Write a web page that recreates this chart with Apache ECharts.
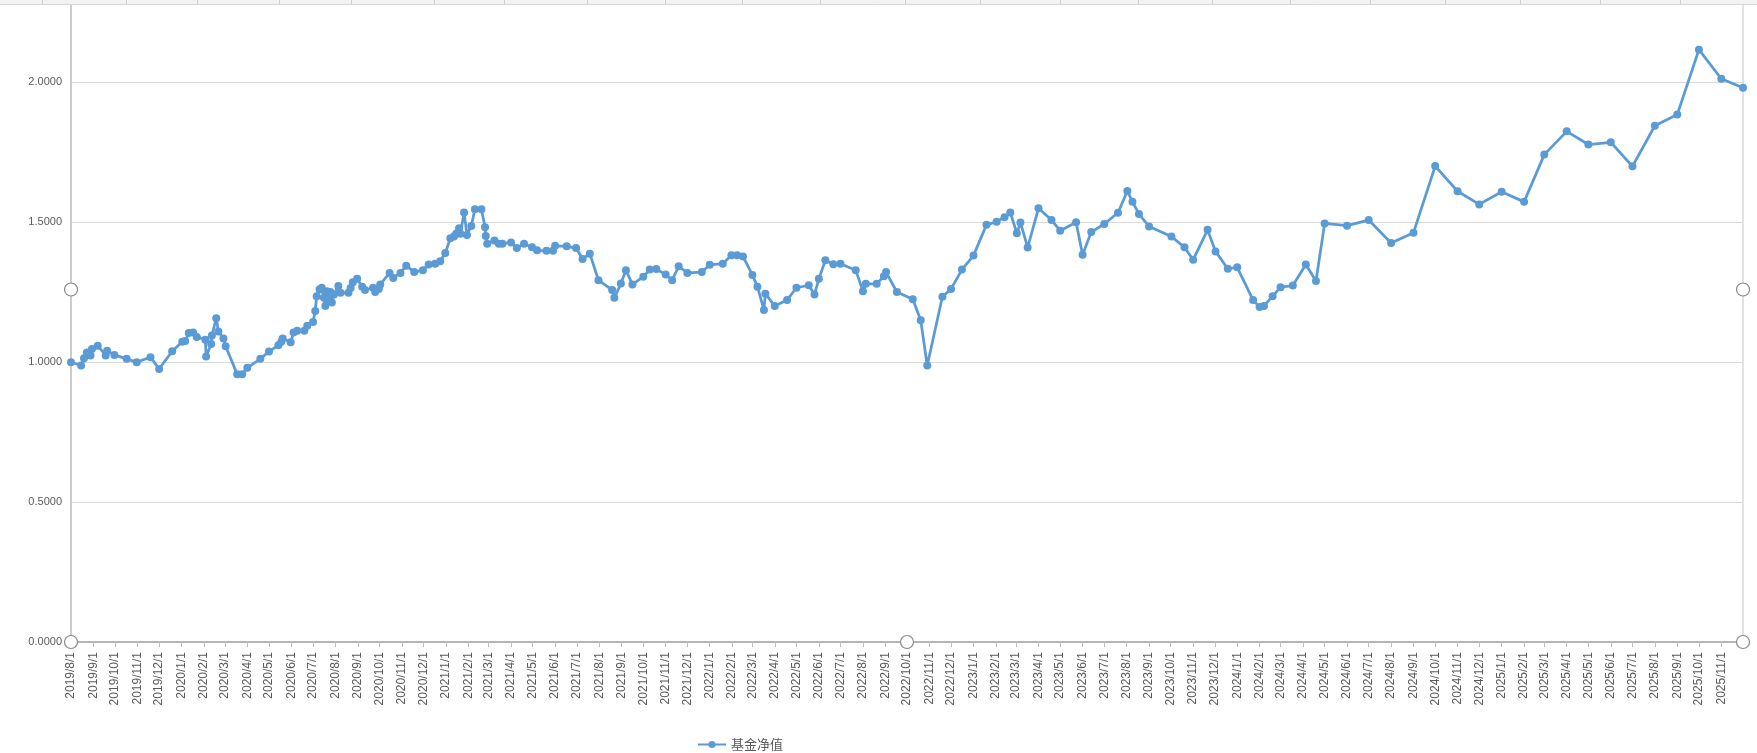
<!DOCTYPE html>
<html>
<head>
<meta charset="utf-8">
<script src="https://cdn.jsdelivr.net/npm/echarts@6/dist/echarts.min.js"></script>
<style>
  html, body { margin: 0; padding: 0; background: #ffffff; overflow: hidden; width: 1757px; height: 753px; position: relative; }
  #chart { position: absolute; left: 0; top: -63px; width: 1757px; height: 816px; }
</style>
</head>
<body>
<div id="chart"></div>
<script>
// ---- data ----
const seriesName = '基金净值';
const dates = [
  '2019-08-01','2019-08-15','2019-08-19','2019-08-23','2019-08-28','2019-08-30','2019-09-07','2019-09-18','2019-09-20','2019-09-30',
  '2019-10-17','2019-10-31','2019-11-19','2019-12-01','2019-12-19','2020-01-02','2020-01-06','2020-01-11','2020-01-17','2020-01-22',
  '2020-02-03','2020-02-04','2020-02-11','2020-02-12','2020-02-18','2020-02-21','2020-02-28','2020-03-02','2020-03-18','2020-03-25',
  '2020-04-01','2020-04-19','2020-05-01','2020-05-14','2020-05-18','2020-05-20','2020-05-31','2020-06-04','2020-06-09','2020-06-19',
  '2020-06-23','2020-07-01','2020-07-04','2020-07-06','2020-07-10','2020-07-13','2020-07-16','2020-07-18','2020-07-20','2020-07-23',
  '2020-07-25','2020-07-27','2020-07-30','2020-08-05','2020-08-08','2020-08-19','2020-08-22','2020-08-25','2020-08-31','2020-09-07',
  '2020-09-11','2020-09-22','2020-09-25','2020-09-30','2020-10-02','2020-10-15','2020-10-20','2020-10-30','2020-11-07','2020-11-18',
  '2020-11-30','2020-12-08','2020-12-17','2020-12-24','2020-12-31','2021-01-07','2021-01-12','2021-01-15','2021-01-19','2021-01-21',
  '2021-01-26','2021-01-30','2021-02-05','2021-02-10','2021-02-19','2021-02-24','2021-02-25','2021-02-27','2021-03-09','2021-03-15',
  '2021-03-20','2021-04-01','2021-04-09','2021-04-19','2021-04-30','2021-05-07','2021-05-20','2021-05-29','2021-06-01','2021-06-17',
  '2021-06-30','2021-07-09','2021-07-19','2021-07-31','2021-08-19','2021-08-22','2021-08-31','2021-09-07','2021-09-16','2021-10-01',
  '2021-10-10','2021-10-19','2021-11-01','2021-11-10','2021-11-19','2021-12-01','2021-12-21','2022-01-01','2022-01-19','2022-01-31',
  '2022-02-08','2022-02-16','2022-03-01','2022-03-08','2022-03-17','2022-03-19','2022-04-01','2022-04-18','2022-05-01','2022-05-18',
  '2022-05-26','2022-06-01','2022-06-10','2022-06-21','2022-07-01','2022-07-22','2022-08-01','2022-08-05','2022-08-20','2022-08-30',
  '2022-09-02','2022-09-17','2022-10-09','2022-10-20','2022-10-29','2022-11-19','2022-12-01','2022-12-16','2023-01-01','2023-01-19',
  '2023-02-02','2023-02-13','2023-02-21','2023-03-02','2023-03-07','2023-03-17','2023-04-01','2023-04-19','2023-05-01','2023-05-23',
  '2023-06-01','2023-06-13','2023-07-01','2023-07-20','2023-08-02','2023-08-09','2023-08-18','2023-09-01','2023-10-02','2023-10-20',
  '2023-11-01','2023-11-21','2023-12-02','2023-12-19','2024-01-01','2024-01-23','2024-02-01','2024-02-07','2024-02-19','2024-03-01',
  '2024-03-18','2024-04-05','2024-04-19','2024-05-01','2024-06-01','2024-07-01','2024-08-01','2024-09-01','2024-10-01','2024-11-01',
  '2024-12-01','2025-01-01','2025-02-01','2025-03-01','2025-04-01','2025-05-01','2025-06-01','2025-07-01','2025-08-01','2025-09-01',
  '2025-10-01','2025-11-01','2025-12-01'
];
const navValues = [
  1.000,0.988,1.014,1.035,1.024,1.047,1.059,1.024,1.041,1.026,
  1.012,1.000,1.018,0.976,1.039,1.073,1.076,1.104,1.106,1.090,
  1.080,1.020,1.065,1.095,1.157,1.110,1.085,1.057,0.957,0.957,
  0.980,1.012,1.038,1.061,1.073,1.085,1.071,1.106,1.112,1.112,
  1.130,1.144,1.183,1.236,1.260,1.266,1.230,1.201,1.254,1.225,
  1.251,1.213,1.242,1.272,1.248,1.248,1.265,1.286,1.298,1.270,
  1.258,1.266,1.251,1.262,1.278,1.319,1.301,1.319,1.345,1.322,
  1.329,1.349,1.352,1.361,1.390,1.443,1.449,1.459,1.479,1.459,
  1.535,1.455,1.487,1.547,1.547,1.482,1.451,1.423,1.435,1.423,
  1.423,1.428,1.408,1.423,1.411,1.400,1.398,1.398,1.416,1.414,
  1.408,1.369,1.388,1.293,1.258,1.230,1.281,1.329,1.278,1.305,
  1.331,1.333,1.313,1.293,1.343,1.319,1.322,1.348,1.352,1.382,
  1.382,1.378,1.312,1.270,1.187,1.245,1.201,1.222,1.266,1.275,
  1.242,1.298,1.364,1.350,1.352,1.329,1.254,1.280,1.280,1.307,
  1.322,1.251,1.225,1.150,0.988,1.234,1.262,1.331,1.381,1.491,
  1.502,1.518,1.535,1.461,1.499,1.410,1.550,1.508,1.470,1.500,
  1.384,1.465,1.494,1.534,1.612,1.573,1.530,1.485,1.449,1.411,
  1.366,1.473,1.396,1.334,1.339,1.222,1.197,1.201,1.236,1.268,
  1.274,1.349,1.290,1.496,1.488,1.508,1.426,1.463,1.701,1.611,
  1.564,1.609,1.573,1.742,1.825,1.778,1.786,1.700,1.845,1.885,
  2.117,2.013,1.981
];
// x axis: first month label / last month label, axis range
const tickStartMonth = [2019, 8];
const tickEndMonth = [2025, 11];
const axisMinDate = '2019-08-01';
const axisMaxDate = '2025-12-01';
// y axis
const yMin = 0, yMax = 2.5, yStep = 0.5;

// ---- helpers ----
function toTs(s) { const p = s.split('-').map(Number); return Date.UTC(p[0], p[1] - 1, p[2]); }
function fmtDate(ts) { const d = new Date(ts); return d.getUTCFullYear() + '/' + (d.getUTCMonth() + 1) + '/' + d.getUTCDate(); }
const tickValues = [];
for (let y = tickStartMonth[0], m = tickStartMonth[1]; y < tickEndMonth[0] || (y === tickEndMonth[0] && m <= tickEndMonth[1]); ) {
  tickValues.push(Date.UTC(y, m - 1, 1));
  m++; if (m > 12) { m = 1; y++; }
}
const seriesData = dates.map((d, i) => [toTs(d), navValues[i]]);

// ---- layout (chart canvas is taller than the page and shifted up: the plot top is cut off) ----
const W = 1757, H = 816, OFF = 63;
const GL = 71, GR = 14, GT = 0, GB = 111;
const px0 = GL, px1 = W - GR, pyB = H - GB, pyT = GT;
const handleR = 6.5;
function handle(x, y) {
  return { type: 'circle', shape: { cx: x, cy: y, r: handleR }, style: { fill: '#ffffff', stroke: '#8a8a8a', lineWidth: 1.2 }, z: 100 };
}
const colSeps = [42, 126, 197, 279, 351, 434, 504, 587, 665, 742, 820, 905, 980, 1060, 1138, 1212, 1290, 1370, 1445, 1520, 1600, 1680];
const topStrip = [{ type: 'rect', shape: { x: 0, y: OFF, width: W, height: 5 }, style: { fill: '#f2f2f2' }, z: 90 },
  { type: 'line', shape: { x1: 0, y1: OFF + 4.5, x2: W, y2: OFF + 4.5 }, style: { stroke: '#d8d8d8', lineWidth: 1 }, z: 91 }]
  .concat(colSeps.map(x => ({ type: 'line', shape: { x1: x + 0.5, y1: OFF, x2: x + 0.5, y2: OFF + 5 }, style: { stroke: '#d0d0d0', lineWidth: 1 }, z: 91 })));

const chart = echarts.init(document.getElementById('chart'), null, { renderer: 'canvas', width: W, height: H });
const option = {
  animation: false,
  backgroundColor: '#ffffff',
  textStyle: { fontFamily: 'Liberation Sans, Noto Sans CJK SC, sans-serif' },
  grid: { left: GL, right: GR, top: GT, bottom: GB, containLabel: false, show: true, borderColor: '#c4c4c4', borderWidth: 1 },
  legend: {
    data: [seriesName], left: 692, top: OFF + 733,
    itemWidth: 28, itemHeight: 9, itemGap: 4,
    textStyle: { fontSize: 13, color: '#595959', fontFamily: 'Noto Sans CJK SC, sans-serif' }
  },
  xAxis: {
    type: 'value',
    min: toTs(axisMinDate), max: toTs(axisMaxDate),
    axisLine: { show: true, lineStyle: { color: '#a8a8a8', width: 1.5 } },
    axisTick: { show: true, customValues: tickValues, length: 5, lineStyle: { color: '#bdbdbd', width: 1 } },
    axisLabel: {
      show: true, customValues: tickValues, rotate: 90, margin: 10,
      fontSize: 12, color: '#595959', fontFamily: 'Liberation Sans, sans-serif',
      formatter: v => fmtDate(v), hideOverlap: false
    },
    splitLine: { show: false }
  },
  yAxis: {
    type: 'value', min: yMin, max: yMax, interval: yStep,
    axisLine: { show: true, lineStyle: { color: '#c4c4c4', width: 1.5 } },
    axisTick: { show: false },
    axisLabel: { fontSize: 11, color: '#595959', margin: 9, formatter: v => v.toFixed(4), fontFamily: 'Liberation Sans, sans-serif' },
    splitLine: { show: true, lineStyle: { color: '#d9d9d9', width: 1 } }
  },
  series: [{
    name: seriesName,
    type: 'line',
    data: seriesData,
    showAllSymbol: true,
    symbol: 'circle',
    symbolSize: 8,
    lineStyle: { color: '#5b9bd5', width: 2.75 },
    itemStyle: { color: '#5b9bd5' },
    clip: false
  }],
  graphic: topStrip.concat([
    handle(px0, (pyT + pyB) / 2),
    handle(px1, (pyT + pyB) / 2),
    handle(px0, pyB),
    handle((px0 + px1) / 2, pyB),
    handle(px1, pyB)
  ])
};
chart.setOption(option);
</script>
</body>
</html>
